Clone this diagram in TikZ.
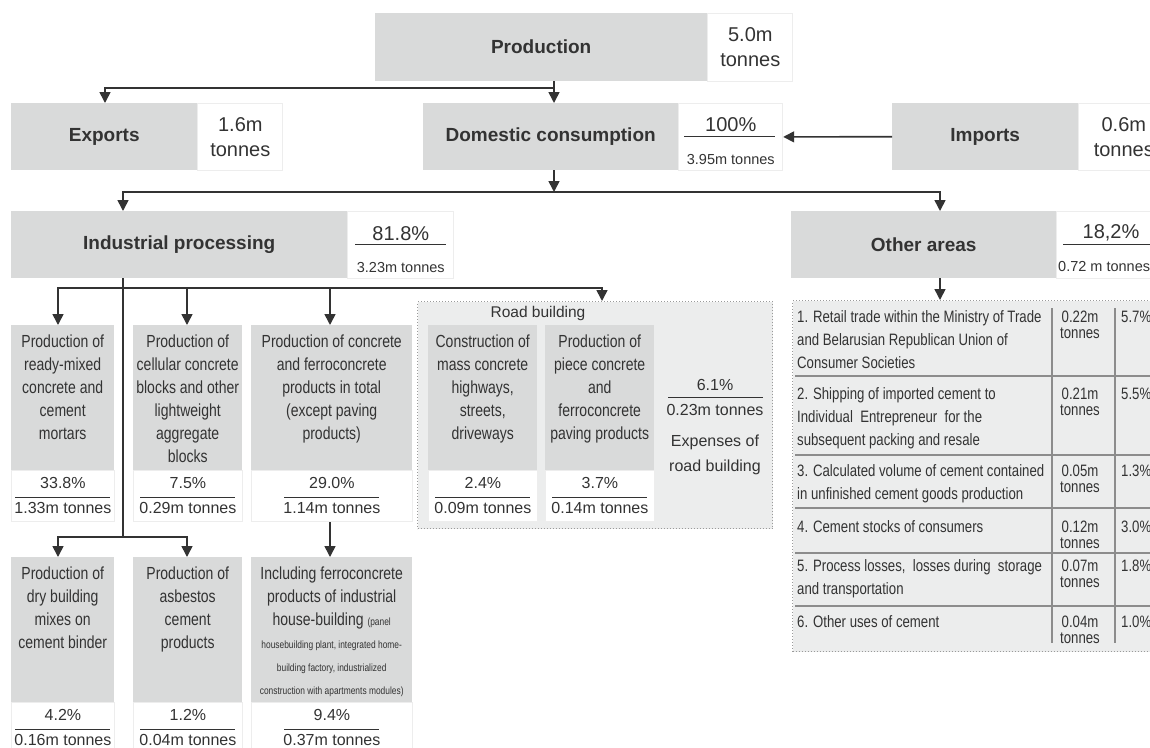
\documentclass[tikz,border=0pt]{standalone}
\usepackage{fontspec}
\setmainfont{Liberation Sans}
\newfontfamily\condfont[FakeStretch=0.8]{Liberation Sans}
\usetikzlibrary{arrows.meta,calc}

\definecolor{ink}{HTML}{333333}
\definecolor{boxgray}{HTML}{D9DADA}
\definecolor{panelgray}{HTML}{ECEDED}
\definecolor{rulegray}{HTML}{8C8C8C}
\definecolor{dotgray}{HTML}{9A9A9A}
\newcommand\smtxt{\fontsize{10.5}{23}\selectfont}

\begin{document}
\begin{tikzpicture}[
  x=1pt, y=-1pt,
  text=ink,
  headbox/.style={fill=boxgray, inner sep=0, anchor=north west, font=\bfseries\fontsize{19}{23}\selectfont},
  valbox/.style={fill=white, draw=black!7, line width=.8pt, inner sep=0, anchor=north west, align=center, font=\fontsize{20}{25}\selectfont},
  catbox/.style={fill=boxgray, inner sep=0, anchor=north west},
  cattext/.style={anchor=north, inner sep=0, align=center, font=\condfont\fontsize{17.5}{23}\selectfont},
  num/.style={inner sep=0, font=\fontsize{16}{20}\selectfont},
  small/.style={inner sep=0, font=\fontsize{14.5}{18}\selectfont},
  frac/.style={ink, line width=1pt},
  wire/.style={ink, line width=1.6pt},
  arr/.style={ink, line width=1.6pt, -{Triangle[width=11pt,length=11pt]}},
  dotpanel/.style={fill=panelgray, draw=dotgray, dotted, line width=1pt, inner sep=0, anchor=north west},
  rowtext/.style={anchor=north west, inner sep=0, align=left, font=\condfont\fontsize{16.5}{23}\selectfont},
  rowval/.style={anchor=north, inner sep=0, align=center, font=\condfont\fontsize{16.5}{16.5}\selectfont},
  rowrule/.style={rulegray, line width=1.2pt}
]
\useasboundingbox (0,0) rectangle (1150,747);
\clip (0,0) rectangle (1150,747);

% top level
\node[headbox, minimum width=332, minimum height=68] (prod) at (375,13) {Production};
\node[valbox, minimum width=85, minimum height=68] (prodv) at (prod.north east) {5.0m\\tonnes};

\node[headbox, minimum width=186, minimum height=67] (exp) at (11,103) {Exports};
\node[valbox, minimum width=85, minimum height=67] (expv) at (exp.north east) {1.6m\\tonnes};

\node[headbox, minimum width=255, minimum height=67] (dom) at (423,103) {Domestic consumption};
\node[valbox, minimum width=104, minimum height=67] (domv) at (dom.north east) {};
\node[num, font=\fontsize{20}{24}\selectfont] (domp) at ($(domv.center)+(0,-12.5)$) {100\%};
\draw[frac] ($(domv.west)+(6,0)$) -- ($(domv.east)+(-8,0)$);
\node[small] (domq) at ($(domv.center)+(0,22.5)$) {3.95m tonnes};

\node[headbox, minimum width=186, minimum height=67] (imp) at (892,103) {Imports};
\node[valbox, minimum width=90, minimum height=67] (impv) at (imp.north east) {0.6m\\tonnes};

% second level
\node[headbox, minimum width=336, minimum height=67] (ind) at (11,211) {Industrial processing};
\node[valbox, minimum width=106, minimum height=67] (indv) at (ind.north east) {};
\node[num, font=\fontsize{20}{24}\selectfont] (indp) at ($(indv.center)+(0,-11.5)$) {81.8\%};
\draw[frac] ($(indv.west)+(8,0)$) -- ($(indv.east)+(-8,0)$);
\node[small] (indq) at ($(indv.center)+(0,22.5)$) {3.23m tonnes};

\node[headbox, minimum width=265, minimum height=67] (oth) at (791,211) {Other areas};
\node[valbox, minimum width=110, minimum height=67] (othv) at (oth.north east) {};
\node[num, font=\fontsize{20}{24}\selectfont] (othp) at (1111,233) {18,2\%};
\draw[frac] ($(othv.west)+(7,0)$) -- ($(othv.east)+(0,0)$);
\node[small, anchor=west] (othq) at (1058,267) {0.72 m tonnes};

% panels
\node[dotpanel, minimum width=355, minimum height=227] (road) at (417,301) {};
\node[inner sep=0, font=\fontsize{15.5}{18}\selectfont] (roadt) at (538,313) {Road building};
\node[dotpanel, minimum width=380, minimum height=351] (othpan) at (792,300) {};

% category boxes
\foreach \n/\x/\y/\w/\txt/\p/\q in {
  a/11/325/103/{Production of\\ready-mixed\\concrete and\\cement\\mortars}/33.8/1.33,
  b/133/325/109/{Production of\\cellular concrete\\blocks and other\\lightweight\\aggregate\\blocks}/7.5/0.29,
  c/251/325/161/{Production of concrete\\and ferroconcrete\\products in total\\(except paving\\products)}/29.0/1.14,
  d/428/325/109/{Construction of\\mass concrete\\highways,\\streets,\\driveways}/2.4/0.09,
  e/545/325/109/{Production of\\piece concrete\\and\\ferroconcrete\\paving products}/3.7/0.14,
  f/11/557/103/{Production of\\dry building\\mixes on\\cement binder}/4.2/0.16,
  g/133/557/109/{Production of\\asbestos\\cement\\products}/1.2/0.04,
  h/251/557/161/{Including ferroconcrete\\products of industrial\\house-building {\smtxt(panel}\\{\smtxt housebuilding plant, integrated home-}\\{\smtxt building factory, industrialized}\\{\smtxt construction with apartments modules)}}/9.4/0.37}
{
  \node[catbox, minimum width=\w, minimum height=145] (\n) at (\x,\y) {};
  \node[cattext] (\n-t) at ($(\n.north)+(0,10)$) {\txt};
  \node[valbox, minimum width=\w, minimum height=51] (\n-v) at (\n.south west) {};
  \node[num] (\n-p) at ($(\n-v.north)+(0,13)$) {\p\%};
  \draw[frac] ($(\n-v.center)+(-47.5,1.5)$) -- ($(\n-v.center)+(47.5,1.5)$);
  \node[num] (\n-q) at ($(\n-v.north)+(0,38)$) {\q m tonnes};
}

% road building total
\node[num] (roadp) at (715,385) {6.1\%};
\draw[frac] (668,397) -- (763,397);
\node[num] (roadq) at (715,410) {0.23m tonnes};
\node[num, align=center, font=\fontsize{16}{25}\selectfont] (roadx) at (715,454.5) {Expenses of\\road building};

% other areas table
\foreach \y in {376,455,508,553,606}
  \draw[rowrule] (795,\y) -- (1160,\y);
\draw[rowrule] (1052,308) -- (1052,643);
\draw[rowrule] (1115,308) -- (1115,643);
\foreach \y/\txt/\m/\pc in {
  310.5/{1. Retail trade within the Ministry of Trade\\and Belarusian Republican Union of\\Consumer Societies}/0.22/5.7,
  387.5/{2. Shipping of imported cement to\\Individual\ \ Entrepreneur\ \ for the\\subsequent packing and resale}/0.21/5.5,
  464.5/{3. Calculated volume of cement contained\\in unfinished cement goods production}/0.05/1.3,
  520.5/{4. Cement stocks of consumers}/0.12/3.0,
  559.5/{5. Process losses,\ \ losses during\ \ storage\\and transportation}/0.07/1.8,
  615.5/{6. Other uses of cement}/0.04/1.0}
{
  \node[rowtext] at (797,\y) {\txt};
  \node[rowval] at (1080,\y) {\m m\\tonnes};
  \node[rowtext] at (1121,\y) {\pc\%};
}

% connectors
\coordinate (j1) at (554,88);
\coordinate (j2) at (105,88);
\coordinate (j3) at (554,192);
\coordinate (j4) at (123,192);
\coordinate (j5) at (940,192);
\draw[arr] (j1 |- prod.south) -- (j1 |- dom.north);
\draw[arr] (j1) -- (j2) -- (j2 |- exp.north);
\draw[arr] (imp.west) -- (domv.east);
\draw[arr] (j3 |- dom.south) -- (j3);
\draw[arr] (j3) -- (j4) -- (j4 |- ind.north);
\draw[arr] (j3) -- (j5) -- (j5 |- oth.north);
\draw[arr] (j5 |- oth.south) -- (j5 |- othpan.north);

\coordinate (k0) at (123,288);
\coordinate (ka) at (58,288);
\coordinate (kb) at (187,288);
\coordinate (kc) at (330,288);
\coordinate (kr) at (602,288);
\coordinate (k5) at (123,537);
\coordinate (kf) at (58,537);
\coordinate (kg) at (187,537);
\draw[wire] (ind.south -| k0) -- (k5);
\draw[arr] (k0) -- (ka) -- (ka |- a.north);
\draw[arr] (k0) -- (kr) -- (kr |- road.north);
\draw[arr] (kb) -- (kb |- b.north);
\draw[arr] (kc) -- (kc |- c.north);
\draw[arr] (k5) -- (kf) -- (kf |- f.north);
\draw[arr] (k5) -- (kg) -- (kg |- g.north);
\draw[arr] (c-v.south -| kc) -- (kc |- h.north);
\end{tikzpicture}
\end{document}
